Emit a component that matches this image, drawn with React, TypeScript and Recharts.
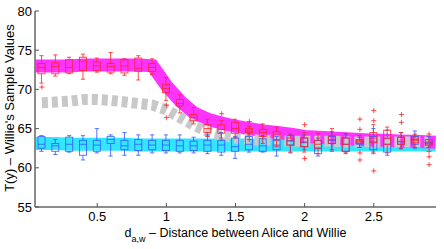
import React from 'react';
import { ComposedChart, Line, Bar, Scatter, XAxis, YAxis } from 'recharts';

const positions = [0.1, 0.2, 0.3, 0.4, 0.5, 0.6, 0.7, 0.8, 0.9, 1.0, 1.1, 1.2, 1.3, 1.4, 1.5, 1.6, 1.7, 1.8, 1.9, 2.0, 2.1, 2.2, 2.3, 2.4, 2.5, 2.6, 2.7, 2.8, 2.9];

const magentaBand = [73.0, 73.0, 73.0, 73.1, 73.1, 73.1, 73.1, 73.1, 73.0, 70.5, 68.5, 67.0, 66.2, 65.7, 65.3, 65.0, 64.7, 64.5, 64.3, 64.0, 63.9, 63.8, 63.7, 63.6, 63.5, 63.5, 63.4, 63.4, 63.3];
const cyanBand = [63.1, 63.1, 63.0, 63.0, 63.0, 63.0, 63.0, 62.9, 62.9, 62.9, 62.9, 62.9, 62.9, 62.9, 62.9, 62.9, 62.9, 62.9, 62.9, 62.9, 62.9, 62.9, 62.9, 62.9, 62.9, 62.9, 62.9, 62.9, 62.9];
const greyMean = [68.3, 68.4, 68.5, 68.7, 68.7, 68.6, 68.4, 68.2, 68.0, 67.4, 66.4, 65.4, 64.6, 64.1, 63.8, 63.6, 63.5, 63.5, 63.4, 63.4, 63.4, 63.4, 63.3, 63.3, 63.3, 63.3, 63.3, 63.3, 63.3];

const redLo = [70.8, 71.7, 72.0, 71.3, 72.2, 72.0, 71.8, 71.2, 71.9, 68.6, 67.0, 65.6, 64.0, 63.8, 63.8, 64.2, 63.1, 62.7, 61.9, 62.0, 61.8, 62.1, 61.9, 62.6, 62.0, 61.9, 62.5, 62.6, 62.6];
const redQ1 = [72.0, 72.0, 72.1, 72.4, 72.4, 72.2, 72.1, 72.3, 72.3, 69.6, 67.9, 66.0, 64.5, 64.4, 64.4, 64.5, 64.0, 63.6, 62.9, 62.7, 62.5, 63.1, 62.1, 63.1, 63.2, 63.0, 63.0, 63.2, 62.9];
const redMed = [72.8, 72.9, 72.8, 73.6, 73.0, 72.9, 73.0, 72.7, 72.8, 70.1, 68.2, 66.4, 65.0, 64.9, 65.0, 64.7, 64.5, 64.2, 63.4, 63.3, 63.0, 63.6, 63.0, 63.3, 63.8, 63.7, 63.4, 63.5, 63.1];
const redQ3 = [73.3, 73.4, 73.8, 74.1, 73.5, 73.3, 73.8, 74.0, 73.3, 70.6, 68.7, 66.8, 65.5, 65.5, 65.8, 65.0, 64.9, 64.6, 63.8, 63.8, 63.5, 64.1, 63.8, 63.5, 64.5, 64.8, 63.9, 63.8, 63.3];
const redHi = [74.3, 74.4, 74.1, 74.5, 74.0, 74.7, 73.9, 74.3, 73.9, 71.5, 69.3, 67.7, 66.2, 66.0, 66.2, 65.3, 65.6, 65.2, 64.2, 64.5, 64.4, 65.0, 64.4, 63.9, 65.5, 65.2, 64.5, 64.3, 63.6];

const blueLo = [62.1, 61.7, 62.0, 61.0, 61.9, 61.5, 61.6, 61.6, 61.9, 61.9, 61.9, 61.9, 61.8, 61.6, 61.2, 62.0, 62.0, 61.5, 62.0, 62.3, 61.5, 62.3, 61.8, 62.6, 61.8, 61.6, 62.4, 62.5, 62.6];
const blueQ1 = [62.5, 62.1, 62.1, 61.6, 62.1, 63.1, 62.3, 62.2, 62.3, 62.2, 62.1, 62.2, 62.1, 62.0, 62.1, 62.3, 62.1, 62.3, 62.9, 62.7, 61.8, 63.1, 62.1, 63.0, 62.3, 62.0, 63.0, 63.0, 62.9];
const blueMed = [63.0, 62.8, 63.0, 63.0, 62.9, 63.6, 62.8, 63.0, 62.9, 62.9, 62.8, 62.8, 62.9, 62.9, 62.7, 63.0, 62.8, 62.9, 63.5, 63.2, 62.5, 63.5, 63.0, 63.3, 63.3, 63.0, 63.3, 63.6, 63.2];
const blueQ3 = [64.0, 63.1, 63.9, 63.5, 63.5, 64.0, 63.5, 63.6, 63.5, 63.5, 63.5, 63.4, 63.5, 63.5, 63.8, 64.0, 63.7, 63.5, 64.1, 63.8, 63.5, 64.0, 63.8, 63.6, 64.0, 63.8, 63.9, 64.0, 63.6];
const blueHi = [64.1, 63.6, 64.1, 64.1, 65.0, 64.2, 64.5, 64.2, 64.2, 64.2, 64.2, 63.9, 64.2, 64.5, 64.0, 64.4, 64.1, 64.0, 64.3, 64.2, 63.8, 64.6, 64.3, 64.1, 65.0, 64.8, 64.5, 64.7, 64.0];

const redOutlierX = [0.1, 1.0, 1.0, 1.4, 1.6, 1.6, 2.0, 2.0, 2.4, 2.4, 2.4, 2.4, 2.5, 2.5, 2.5, 2.7, 2.7, 2.9, 2.9, 2.9, 2.9];
const redOutlierY = [70.3, 68.0, 66.4, 66.9, 65.9, 63.6, 65.5, 61.2, 66.2, 64.9, 61.9, 61.0, 67.3, 66.0, 59.6, 66.8, 65.8, 64.3, 62.1, 61.4, 60.4];

const xTicks = [0.5, 1, 1.5, 2, 2.5];
const yTicks = [55, 60, 65, 70, 75, 80];

const RED = '#ff2222';
const BLUE = '#3355ff';
const FONT = '"Liberation Sans", Arial, Helvetica, sans-serif';

const rows = positions.map((x, i) => ({
  x,
  magenta: magentaBand[i],
  cyan: cyanBand[i],
  grey: greyMean[i],
  red: { lo: redLo[i], q1: redQ1[i], med: redMed[i], q3: redQ3[i], hi: redHi[i] },
  blue: { lo: blueLo[i], q1: blueQ1[i], med: blueMed[i], q3: blueQ3[i], hi: blueHi[i] },
  span: [Math.min(redLo[i], blueLo[i]), Math.max(redHi[i], blueHi[i])],
}));

const redOutliers = redOutlierX.map((x, i) => ({ x, y: redOutlierY[i] }));

const BoxShape = (props: any) => {
  const { x, y, width, height, index } = props;
  const d = props.payload && props.payload.span ? props.payload : rows[index];
  if (!d) return null;
  const [vmin, vmax] = d.span;
  const top = Math.min(y, y + height);
  const bottom = Math.max(y, y + height);
  const k = (bottom - top) / (vmax - vmin);
  const py = (v: number) => top + (vmax - v) * k;
  const cx = x + width / 2;
  const half = width / 2;
  const cap = width * 0.3;
  const draw = (s: any, color: string) => (
    <g stroke={color} fill="none" strokeWidth={1} strokeOpacity={0.8}>
      <line x1={cx} x2={cx} y1={py(s.hi)} y2={py(s.q3)} />
      <line x1={cx} x2={cx} y1={py(s.q1)} y2={py(s.lo)} />
      <line x1={cx - cap} x2={cx + cap} y1={py(s.hi)} y2={py(s.hi)} />
      <line x1={cx - cap} x2={cx + cap} y1={py(s.lo)} y2={py(s.lo)} />
      <rect x={cx - half} y={py(s.q3)} width={width} height={py(s.q1) - py(s.q3)} />
      <line x1={cx - half} x2={cx + half} y1={py(s.med)} y2={py(s.med)} />
    </g>
  );
  return (
    <g>
      {draw(d.blue, BLUE)}
      {draw(d.red, RED)}
    </g>
  );
};

const PlusShape = (props: any) => {
  const { cx, cy } = props;
  if (cx == null || cy == null) return null;
  return <path d={`M${cx - 2.5},${cy}h5M${cx},${cy - 2.5}v5`} stroke={RED} strokeOpacity={0.8} strokeWidth={1} fill="none" />;
};

const XLabel = (props: any) => {
  const vb = props.viewBox || { x: 35, y: 207, width: 401, height: 30 };
  const cx = vb.x + vb.width / 2;
  return (
    <text x={cx} y={vb.y + 29.5} textAnchor="middle" fontSize={12.5} fontFamily={FONT} fill="#000">
      d
      <tspan fontSize={9} dy={5}>a,w</tspan>
      <tspan fontSize={12.5} dy={-5}>{' – Distance between Alice and Willie'}</tspan>
    </text>
  );
};

const YLabel = (props: any) => {
  const vb = props.viewBox || { x: 0, y: 11, width: 35, height: 196 };
  const cy = vb.y + vb.height / 2 - 1;
  const tx = 13.5;
  return (
    <text transform={`translate(${tx},${cy}) rotate(-90)`} textAnchor="middle" fontSize={13} fontFamily={FONT} fill="#000">
      {"T(y) – Willie's Sample Values"}
    </text>
  );
};

const tickStyle = { fill: '#000', fontSize: 13, fontFamily: FONT };
const axisLineStyle = { stroke: '#666', strokeWidth: 1.5 };
const tickLineStyle = { stroke: '#555', strokeWidth: 1 };

export default function App() {
  return (
    <div style={{ position: 'absolute', left: 0, top: 0, width: 444, height: 249, background: '#fff' }}>
      <ComposedChart width={444} height={249} data={rows} margin={{ top: 11, right: 8, bottom: 12, left: 0 }}>
        <XAxis
          xAxisId="main"
          dataKey="x"
          type="number"
          domain={[0.05, 2.95]}
          allowDataOverflow
          ticks={xTicks}
          height={30}
          tickSize={-4}
          tickMargin={9}
          tick={tickStyle}
          axisLine={axisLineStyle}
          tickLine={tickLineStyle}
          label={XLabel}
        />
        <XAxis
          xAxisId="top"
          orientation="top"
          dataKey="x"
          type="number"
          domain={[0.05, 2.95]}
          allowDataOverflow
          ticks={xTicks}
          height={0}
          tickSize={-4}
          tick={false}
          axisLine={axisLineStyle}
          tickLine={tickLineStyle}
        />
        <YAxis
          yAxisId="main"
          type="number"
          domain={[55, 80]}
          allowDataOverflow
          ticks={yTicks}
          width={35}
          tickSize={-4}
          tickMargin={7}
          tick={tickStyle}
          axisLine={axisLineStyle}
          tickLine={tickLineStyle}
          label={YLabel}
        />
        <YAxis
          yAxisId="right"
          orientation="right"
          type="number"
          domain={[55, 80]}
          allowDataOverflow
          ticks={yTicks}
          width={0}
          tickSize={-4}
          tick={false}
          axisLine={axisLineStyle}
          tickLine={tickLineStyle}
        />
        <Line xAxisId="main" yAxisId="main" dataKey="cyan" type="linear" stroke="#33e6ff" strokeWidth={13} strokeLinecap="square" dot={false} activeDot={false} isAnimationActive={false} />
        <Line xAxisId="main" yAxisId="main" dataKey="magenta" type="linear" stroke="#ff33ff" strokeWidth={13} strokeLinecap="square" dot={false} activeDot={false} isAnimationActive={false} />
        <Line xAxisId="main" yAxisId="main" dataKey="grey" type="linear" stroke="#c8c8c8" strokeWidth={11} strokeDasharray="6 4" dot={false} activeDot={false} isAnimationActive={false} />
        <Bar xAxisId="main" yAxisId="main" dataKey="span" barSize={7} shape={BoxShape} isAnimationActive={false} zIndex={450} />
        <Scatter xAxisId="main" yAxisId="main" data={redOutliers} dataKey="y" shape={PlusShape} isAnimationActive={false} zIndex={650} />
      </ComposedChart>
    </div>
  );
}
